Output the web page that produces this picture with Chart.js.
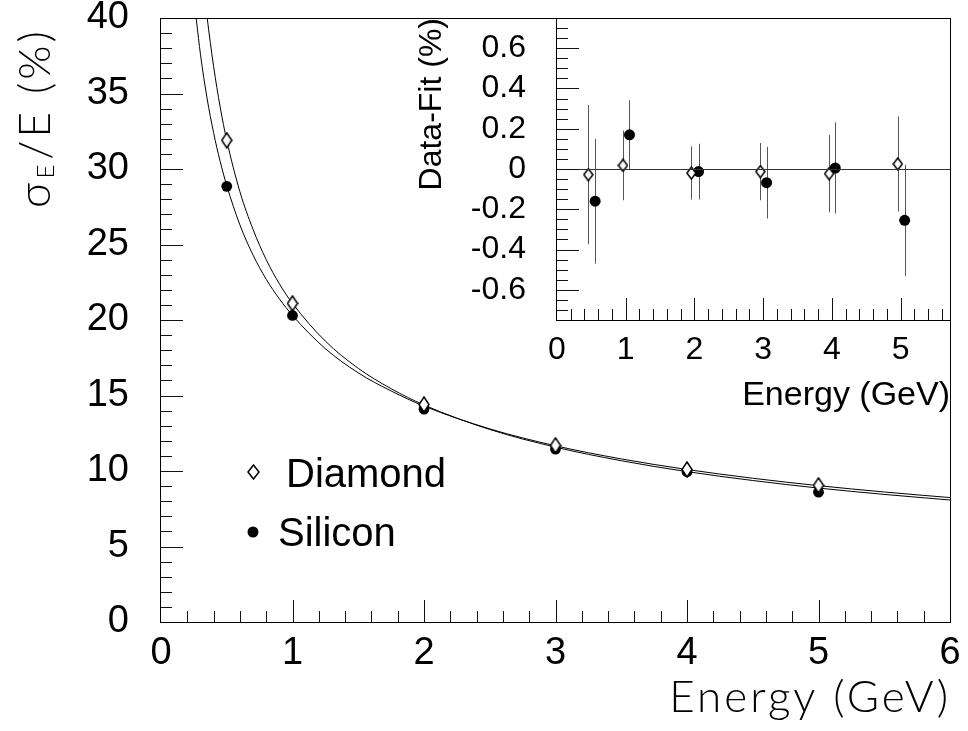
<!DOCTYPE html>
<html><head><meta charset="utf-8">
<script src="https://cdn.jsdelivr.net/npm/chart.js@4.4.1/dist/chart.umd.min.js"></script>
<style>
html,body{margin:0;padding:0;background:#fff;}
#wrap{position:relative;width:968px;height:731px;overflow:hidden;background:#fff;}
#main{position:absolute;left:0;top:0;}
#inset{position:absolute;left:400px;top:0;}
</style></head><body>
<div id="wrap"><canvas id="main" width="968" height="731"></canvas><canvas id="inset" width="568" height="430"></canvas></div>
<script>
// ---------- data ----------
const energies = [0.5, 1, 2, 3, 4, 5];
const diamondRes = [31.9, 21.1, 14.4, 11.7, 10.1, 9.05];
const siliconRes = [28.85, 20.3, 14.1, 11.45, 9.95, 8.6];

const diamondFitE   = [0.33, 0.35, 0.4, 0.45, 0.5, 0.6, 0.7, 0.8, 0.9, 1.0, 1.25, 1.5, 1.75, 2, 2.5, 3, 3.5, 4, 4.5, 5, 5.5, 6];
const diamondFitVal = [41.7, 40.1, 36.8, 34.1, 31.9, 28.5, 26.0, 24.0, 22.4, 21.1, 18.6, 16.8, 15.45, 14.37, 12.75, 11.58, 10.68, 9.96, 9.37, 8.87, 8.45, 8.08];
const siliconFitE   = [0.25, 0.27, 0.3, 0.35, 0.4, 0.45, 0.5, 0.6, 0.7, 0.8, 0.9, 1.0, 1.25, 1.5, 1.75, 2, 2.5, 3, 3.5, 4, 4.5, 5, 5.5, 6];
const siliconFitVal = [41.4, 39.8, 37.6, 34.7, 32.4, 30.5, 28.9, 26.3, 24.3, 22.7, 21.4, 20.3, 18.1, 16.5, 15.3, 14.3, 12.79, 11.67, 10.8, 10.1, 9.52, 9.03, 8.61, 8.24];

const insetDiamondE    = [0.455, 0.96, 1.955, 2.96, 3.96, 4.96];
const insetDiamondDiff = [-0.028, 0.018, -0.02, -0.013, -0.023, 0.025];
const insetDiamondErr  = [0.346, 0.173, 0.132, 0.142, 0.192, 0.236];
const insetSiliconE    = [0.555, 1.055, 2.06, 3.05, 4.05, 5.06];
const insetSiliconDiff = [-0.16, 0.17, -0.013, -0.068, 0.005, -0.255];
const insetSiliconErr  = [0.31, 0.172, 0.138, 0.178, 0.226, 0.276];

const mainXTicks = [0, 1, 2, 3, 4, 5, 6];
const mainYTicks = [0, 5, 10, 15, 20, 25, 30, 35, 40];
const insetXTicks = [0, 1, 2, 3, 4, 5];
const insetYTicks = [-0.6, -0.4, -0.2, 0, 0.2, 0.4, 0.6];
const insetYTickLabels = ['-0.6', '-0.4', '-0.2', '0', '0.2', '0.4', '0.6'];
const legendLabels = ['Diamond', 'Silicon'];
const mainXTitle = 'Energy (GeV)';
const insetXTitle = 'Energy (GeV)';
const insetYTitle = 'Data-Fit (%)';

// ---------- markers ----------
function makeDiamond(w, h) {
  const c = document.createElement('canvas');
  c.width = w + 2; c.height = h + 2;
  const g = c.getContext('2d');
  g.beginPath();
  g.moveTo(c.width / 2, 1); g.lineTo(c.width - 1, c.height / 2);
  g.lineTo(c.width / 2, c.height - 1); g.lineTo(1, c.height / 2); g.closePath();
  g.fillStyle = '#fff'; g.fill();
  g.strokeStyle = '#000'; g.lineWidth = 1.5; g.stroke();
  return c;
}
const diamondMain = makeDiamond(10, 15);
const diamondInset = makeDiamond(9, 12);
const diamondLegend = makeDiamond(11, 14);

// ---------- plugins ----------
const rootFrame = {
  id: 'rootFrame',
  afterDatasetsDraw(chart, args, o) {
    const {ctx, chartArea: a, scales: {x, y}} = chart;
    ctx.save();
    ctx.lineWidth = 1;
    if (o.zeroLine) {
      ctx.strokeStyle = '#333';
      const py = Math.round(y.getPixelForValue(0)) + 0.5;
      ctx.beginPath(); ctx.moveTo(a.left, py); ctx.lineTo(a.right, py); ctx.stroke();
    }
    ctx.strokeStyle = '#111';
    const xMaj = x.ticks.map(t => t.value), yMaj = y.ticks.map(t => t.value);
    const isMaj = (arr, v) => arr.some(m => Math.abs(m - v) < 1e-6);
    const nx0 = Math.ceil(x.min / o.xMinor - 1e-6), nx1 = Math.floor(x.max / o.xMinor + 1e-6);
    for (let i = nx0; i <= nx1; i++) {
      const v = i * o.xMinor;
      if (Math.abs(v - x.min) < 1e-6 || Math.abs(v - x.max) < 1e-6) continue;
      const len = isMaj(xMaj, v) ? o.major : o.minor;
      const px = Math.round(x.getPixelForValue(v)) + 0.5;
      ctx.beginPath(); ctx.moveTo(px, a.bottom); ctx.lineTo(px, a.bottom - len); ctx.stroke();
    }
    const ny0 = Math.ceil(y.min / o.yMinor - 1e-6), ny1 = Math.floor(y.max / o.yMinor + 1e-6);
    for (let i = ny0; i <= ny1; i++) {
      const v = i * o.yMinor;
      if (Math.abs(v - y.min) < 1e-6 || Math.abs(v - y.max) < 1e-6) continue;
      const len = isMaj(yMaj, v) ? o.major : o.minor;
      const py = Math.round(y.getPixelForValue(v)) + 0.5;
      ctx.beginPath(); ctx.moveTo(a.left, py); ctx.lineTo(a.left + len, py); ctx.stroke();
    }
    ctx.strokeStyle = '#000';
    ctx.strokeRect(Math.round(a.left) - 0.5, Math.round(a.top) + 0.5,
                   Math.round(a.right) - Math.round(a.left) + 1, Math.round(a.bottom) - Math.round(a.top));
    ctx.restore();
  }
};

const errorBars = {
  id: 'errorBars',
  beforeDatasetsDraw(chart, args, o) {
    const {ctx, scales: {y}} = chart;
    ctx.save();
    ctx.strokeStyle = o.color || '#555'; ctx.lineWidth = 1;
    chart.data.datasets.forEach((ds, di) => {
      if (!ds.errorBars) return;
      const meta = chart.getDatasetMeta(di);
      meta.data.forEach((pt, i) => {
        const v = ds.data[i].y, e = ds.errorBars[i];
        const px = Math.round(pt.x) + 0.5;
        ctx.beginPath();
        ctx.moveTo(px, y.getPixelForValue(v + e));
        ctx.lineTo(px, y.getPixelForValue(v - e));
        ctx.stroke();
      });
    });
    ctx.restore();
  }
};

const legendBox = {
  id: 'legendBox',
  afterDraw(chart, args, o) {
    const ctx = chart.ctx;
    ctx.save();
    ctx.fillStyle = '#000';
    ctx.font = o.font;
    ctx.textBaseline = 'alphabetic';
    o.items.forEach(it => {
      if (it.marker === 'circle') {
        ctx.beginPath(); ctx.arc(it.mx, it.my, it.r, 0, Math.PI * 2); ctx.fill();
      } else {
        ctx.drawImage(it.marker, Math.round(it.mx - it.marker.width / 2), Math.round(it.my - it.marker.height / 2));
      }
      ctx.fillText(it.label, it.tx, it.ty);
    });
    ctx.restore();
  }
};

// thin axis titles of the main pad (y title carries a subscript)
const mainTitles = {
  id: 'mainTitles',
  afterDraw(chart, args, o) {
    const ctx = chart.ctx;
    ctx.save();
    ctx.fillStyle = '#000';
    ctx.textBaseline = 'alphabetic';
    ctx.font = o.font;
    ctx.letterSpacing = o.spacing;
    ctx.textAlign = 'right';
    ctx.fillText(o.xText, chart.chartArea.right - 2 + parseFloat(o.spacing), o.xBaseline);
    ctx.textAlign = 'left';
    ctx.translate(o.yBaseline, o.yStart);
    ctx.rotate(-Math.PI / 2);
    ctx.fillText(o.yMain, 0, 0);
    let w = ctx.measureText(o.yMain).width;
    ctx.font = o.subFont;
    ctx.fillText(o.ySub, w + 1, o.subShift);
    w += ctx.measureText(o.ySub).width + 3;
    ctx.font = o.font;
    ctx.fillText(o.yRest, w, 0);
    ctx.restore();
  }
};

const tickFontMain = {family: 'Liberation Sans', size: 38};
const tickFontInset = {family: 'Liberation Sans', size: 32};

// ---------- main chart ----------
new Chart(document.getElementById('main'), {
  type: 'scatter',
  data: {
    datasets: [
      {label: legendLabels[0], data: energies.map((e, i) => ({x: e, y: diamondRes[i]})),
       pointStyle: diamondMain, pointRadius: 6, showLine: false},
      {label: legendLabels[1], data: energies.map((e, i) => ({x: e, y: siliconRes[i]})),
       pointStyle: 'circle', pointRadius: 5.4, backgroundColor: '#000', borderWidth: 0, showLine: false},
      {type: 'line', label: 'Diamond fit', data: diamondFitE.map((e, i) => ({x: e, y: diamondFitVal[i]})),
       borderColor: '#000', borderWidth: 1, pointRadius: 0, cubicInterpolationMode: 'monotone', fill: false},
      {type: 'line', label: 'Silicon fit', data: siliconFitE.map((e, i) => ({x: e, y: siliconFitVal[i]})),
       borderColor: '#000', borderWidth: 1, pointRadius: 0, cubicInterpolationMode: 'monotone', fill: false}
    ]
  },
  options: {
    responsive: false, animation: false, events: [], devicePixelRatio: 1,
    layout: {padding: {left: 0, top: 18, right: 18, bottom: 0}, autoPadding: false},
    plugins: {
      legend: {display: false}, tooltip: {enabled: false},
      rootFrame: {xMinor: 0.2, yMinor: 1, major: 22, minor: 11},
      legendBox: {
        font: '40px "Liberation Sans"',
        items: [
          {label: legendLabels[0], marker: diamondLegend, mx: 253, my: 472, tx: 286, ty: 487},
          {label: legendLabels[1], marker: 'circle', r: 5.5, mx: 253, my: 532, tx: 278, ty: 546}
        ]
      },
      mainTitles: {font: '300 44px Lato', subFont: '300 24px Lato', spacing: '3px', subShift: 4,
                   xText: mainXTitle, xBaseline: 712,
                   yBaseline: 50, yStart: 208, yMain: 'σ', ySub: 'E', yRest: '/E (%)'}
    },
    scales: {
      x: {
        type: 'linear', min: 0, max: 6,
        afterBuildTicks: s => { s.ticks = mainXTicks.map(v => ({value: v})); },
        afterFit: s => { s.height = 109; s.paddingLeft = 0; s.paddingRight = 0; },
        grid: {display: false, drawTicks: false}, border: {display: false},
        ticks: {padding: 9, color: '#000', font: tickFontMain, maxRotation: 0, autoSkip: false}
      },
      y: {
        type: 'linear', min: 0, max: 40,
        afterBuildTicks: s => { s.ticks = mainYTicks.map(v => ({value: v})); },
        afterFit: s => { s.width = 161; s.paddingTop = 0; s.paddingBottom = 0; },
        grid: {display: false, drawTicks: false}, border: {display: false},
        ticks: {padding: 32, color: '#000', font: tickFontMain, autoSkip: false}
      }
    }
  },
  plugins: [rootFrame, legendBox, mainTitles]
});

// ---------- inset chart ----------
new Chart(document.getElementById('inset'), {
  type: 'scatter',
  data: {
    datasets: [
      {label: legendLabels[0], data: insetDiamondE.map((e, i) => ({x: e, y: insetDiamondDiff[i]})),
       errorBars: insetDiamondErr, pointStyle: diamondInset, pointRadius: 6, showLine: false},
      {label: legendLabels[1], data: insetSiliconE.map((e, i) => ({x: e, y: insetSiliconDiff[i]})),
       errorBars: insetSiliconErr, pointStyle: 'circle', pointRadius: 5.5, backgroundColor: '#000', borderWidth: 0, showLine: false}
    ]
  },
  options: {
    responsive: false, animation: false, events: [], devicePixelRatio: 1,
    layout: {padding: {left: 0, top: 18, right: 18, bottom: 0}, autoPadding: false},
    plugins: {
      legend: {display: false}, tooltip: {enabled: false},
      rootFrame: {xMinor: 0.2, yMinor: 0.05, major: 22, minor: 11, zeroLine: true},
      errorBars: {color: '#555'}
    },
    scales: {
      x: {
        type: 'linear', min: 0, max: 5.72,
        afterBuildTicks: s => { s.ticks = insetXTicks.map(v => ({value: v})); },
        afterFit: s => { s.height = 110; s.paddingLeft = 0; s.paddingRight = 0; },
        grid: {display: false, drawTicks: false}, border: {display: false},
        ticks: {padding: 11, color: '#000', font: tickFontInset, maxRotation: 0, autoSkip: false},
        title: {display: true, text: insetXTitle, align: 'end', color: '#000',
                font: {family: 'Liberation Sans', size: 34}, padding: {top: 0, bottom: 14}}
      },
      y: {
        type: 'linear', min: -0.75, max: 0.75,
        afterBuildTicks: s => { s.ticks = insetYTicks.map(v => ({value: v})); },
        afterFit: s => { s.width = 157; s.paddingTop = 0; s.paddingBottom = 0; },
        grid: {display: false, drawTicks: false}, border: {display: false},
        ticks: {padding: 31, color: '#000', font: tickFontInset, autoSkip: false,
                callback: (v, i) => insetYTickLabels[i]},
        title: {display: true, text: insetYTitle, align: 'end', color: '#000',
                font: {family: 'Liberation Sans', size: 32}, padding: {top: 13, bottom: 0}}
      }
    }
  },
  plugins: [rootFrame, errorBars]
});
</script>
</body></html>
